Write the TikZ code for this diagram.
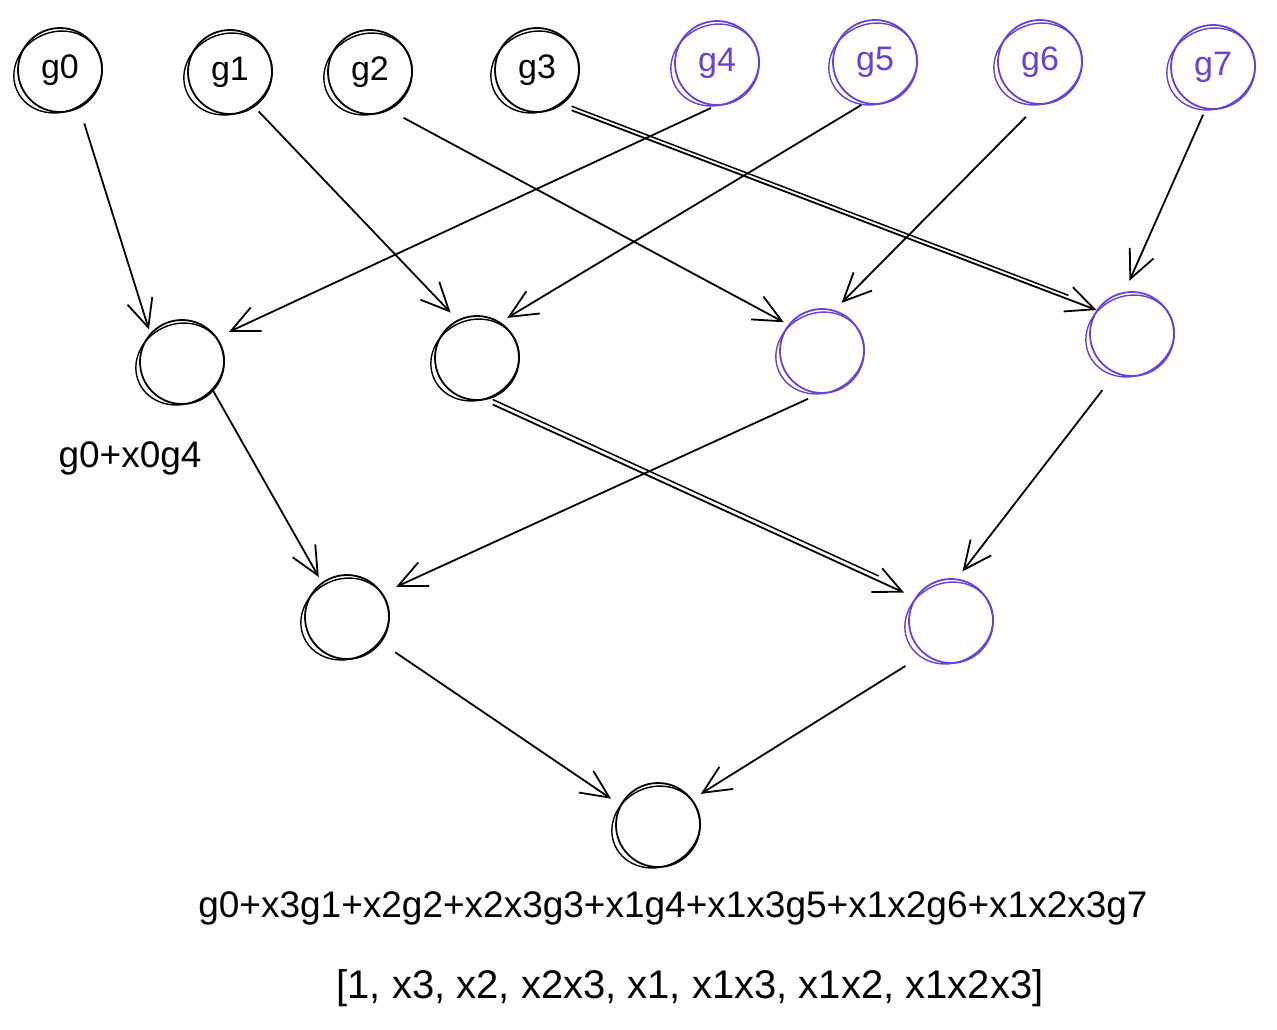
\documentclass[tikz,border=0pt]{standalone}
\usepackage{fontspec}
\setmainfont{Liberation Sans}
\usetikzlibrary{arrows.meta,calc}
\definecolor{vio}{HTML}{6741D9}
\begin{document}
\begin{tikzpicture}[x=1pt,y=-1pt,
  sk/.style={circle, draw, line width=1.8pt, minimum size=84pt, inner sep=0pt,
             font=\fontsize{34}{38}\selectfont},
  skv/.style={sk, draw=vio, text=vio},
  arr/.style={line width=1.8pt, -{Straight Barb[length=28pt,width=26pt,line width=1.8pt]}},
  lbl/.style={font=\fontsize{37}{42}\selectfont, inner sep=0pt}]
\useasboundingbox[fill=white] (0,0) rectangle (1277,1029);
% top row
\node[sk]  (g0) at (60,70)   {g0};
\node[sk]  (g1) at (230,72)  {g1};
\node[sk]  (g2) at (370,72)  {g2};
\node[sk]  (g3) at (537,70)  {g3};
\node[skv] (g4) at (717,63)  {g4};
\node[skv] (g5) at (875,62)  {g5};
\node[skv] (g6) at (1040,62) {g6};
\node[skv] (g7) at (1213,67) {g7};
% second row
\node[sk]  (n0) at (182,362)  {};
\node[sk]  (n1) at (477,358)  {};
\node[skv] (n2) at (822,351)  {};
\node[skv] (n3) at (1132,334) {};
% third row
\node[sk]  (m0) at (347,617) {};
\node[skv] (m1) at (951,621) {};
% root
\node[sk]  (r)  at (658,825) {};
% sketchy second strokes
\foreach \n in {g0,g1,g2,g3,n0,n1,m0,r}
  \draw[line width=1.4pt] ($(\n)+(-2,2)$) ellipse[x radius=45, y radius=40, rotate=25];
\foreach \n in {g4,g5,g6,g7,n2,n3,m1}
  \draw[line width=1.4pt, vio] ($(\n)+(-2,2)$) ellipse[x radius=45, y radius=40, rotate=25];
% connectors level 1
\draw[arr, shorten <=16pt, shorten >=4pt]  (g0.-63)  -- (n0.138);
\draw[arr, shorten <=6pt,  shorten >=10pt] (g1.-55)  -- (n1.117);
\draw[arr, shorten <=16pt, shorten >=5pt]  (g2.-63)  -- (n2.142);
\draw[arr, shorten <=12pt, shorten >=0pt]  (g3.-57)  -- (n3.146);
\draw[line width=1.5pt, shorten <=12pt, shorten >=30pt, transform canvas={shift={(0,-4)}}] (g3.-57) -- (n3.146);
\draw[arr, shorten <=5pt,  shorten >=13pt] (g4.-92)  -- (n0.35);
\draw[arr, shorten <=3pt,  shorten >=8pt]  (g5.-105) -- (n1.57);
\draw[arr, shorten <=17pt, shorten >=10pt] (g6.-93)  -- (n2.73);
\draw[arr, shorten <=6pt,  shorten >=12pt] (g7.-100) -- (n3.100);
% level 2
\draw[arr, shorten <=0pt,  shorten >=6pt]  (n0.-43)  -- (m0.126);
\draw[arr, shorten <=10pt, shorten >=12pt] (n1.-81)  -- (m1.147);
\draw[line width=1.5pt, shorten <=10pt, shorten >=40pt, transform canvas={shift={(0,-5)}}] (n1.-81) -- (m1.147);
\draw[arr, shorten <=12pt, shorten >=15pt] (n2.-94)  -- (m0.34);
\draw[arr, shorten <=21pt, shorten >=9pt]  (n3.-113) -- (m1.82);
% level 3
\draw[arr, shorten <=17pt, shorten >=11pt] (m0.-37)  -- (r.152);
\draw[arr, shorten <=22pt, shorten >=10pt] (m1.-129) -- (r.37);
% labels
\node[lbl] (l0) at (130,458) {g0+x0g4};
\node[lbl] (lf) at (673,908) {g0+x3g1+x2g2+x2x3g3+x1g4+x1x3g5+x1x2g6+x1x2x3g7};
\node[lbl, font=\fontsize{40}{44}\selectfont] (ll) at (690,988) {[1, x3, x2, x2x3, x1, x1x3, x1x2, x1x2x3]};
\end{tikzpicture}
\end{document}
